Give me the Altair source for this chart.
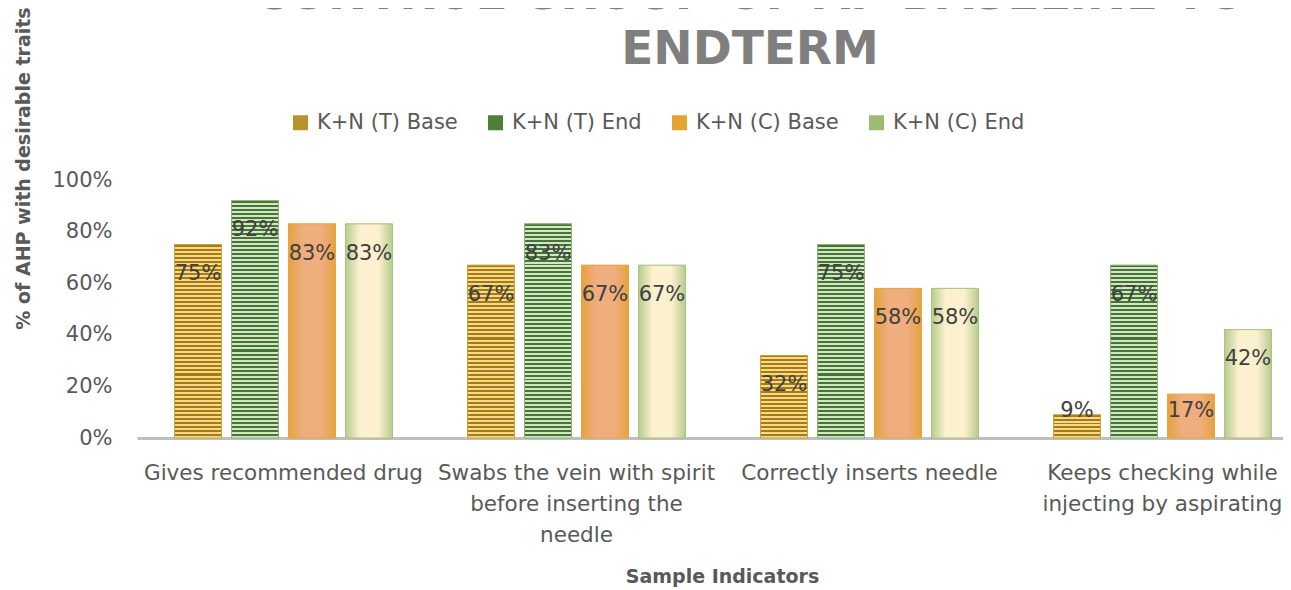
import altair as alt
import pandas as pd

# ---- data ----
categories = [
    "Gives recommended drug",
    "Swabs the vein with spirit before inserting the needle",
    "Correctly inserts needle",
    "Keeps checking while injecting by aspirating",
]
category_lines = [
    ["Gives recommended drug"],
    ["Swabs the vein with spirit", "before inserting the", "needle"],
    ["Correctly inserts needle"],
    ["Keeps checking while", "injecting by aspirating"],
]
series = ["K+N (T) Base", "K+N (T) End", "K+N (C) Base", "K+N (C) End"]
t_base = [0.75, 0.67, 0.32, 0.09]
t_end = [0.92, 0.83, 0.75, 0.67]
c_base = [0.83, 0.67, 0.58, 0.17]
c_end = [0.83, 0.67, 0.58, 0.42]
title_lines = ["CONTROL GROUP OF AP BASELINE TO", "ENDTERM"]
y_title = "% of AHP with desirable traits"
x_title = "Sample Indicators"

values = {series[0]: t_base, series[1]: t_end, series[2]: c_base, series[3]: c_end}
rows = []
for s in series:
    for c, v in zip(categories, values[s]):
        rows.append({"cat": c, "series": s, "v": v})
df = pd.DataFrame(rows)

# ---- layout / style ----
FONT = "DejaVu Sans"
PLOT_H = 258
STEP = 293
W = 1146
legend_colors = ["#B8922A", "#4F7F38", "#E3A52E", "#9CBC72"]

label_map = "{" + ",".join(
    "'" + c + "': [" + ",".join("'" + l + "'" for l in ls) + "]"
    for c, ls in zip(categories, category_lines)
) + "}"

x_enc = alt.X(
    "cat:N",
    sort=categories,
    scale=alt.Scale(range=[0, 4 * STEP], paddingInner=0.222, paddingOuter=0.111),
    axis=alt.Axis(
        title=x_title,
        labelAngle=0,
        labelExpr=label_map + "[datum.value]",
        labelFont=FONT,
        labelFontSize=21.5,
        labelColor="#595959",
        labelLineHeight=31,
        labelPadding=24,
        labelLimit=500,
        labelOverlap=False,
        labelBound=False,
        ticks=False,
        domainColor="#BFBFBF",
        domainWidth=3,
        titleFont=FONT,
        titleFontSize=19,
        titleFontWeight="bold",
        titleColor="#595959",
        titleX=585,
        titleY=138,
        titleAlign="center",
        titleBaseline="middle",
        titleAnchor="start",
    ),
)
xo_enc = alt.XOffset(
    "series:N", sort=series, scale=alt.Scale(paddingInner=0.175, paddingOuter=0.0875)
)
y_enc = alt.Y(
    "v:Q",
    scale=alt.Scale(domain=[0, 1], nice=False),
    axis=alt.Axis(
        title=y_title,
        format=".0%",
        values=[0, 0.2, 0.4, 0.6, 0.8, 1.0],
        grid=False,
        domain=False,
        ticks=False,
        labelFont=FONT,
        labelFontSize=21,
        labelColor="#595959",
        labelPadding=25,
        titleFont=FONT,
        titleFontSize=19,
        titleFontWeight="bold",
        titleColor="#595959",
        titleAngle=270,
        titleX=-114,
        titleY=-12,
        titleAlign="center",
        titleBaseline="middle",
    ),
)

base = alt.Chart(df)

legend_layer = base.mark_bar().encode(
    x=x_enc,
    xOffset=xo_enc,
    y=y_enc,
    color=alt.Color(
        "series:N",
        sort=series,
        scale=alt.Scale(domain=series, range=legend_colors),
        legend=alt.Legend(
            title=None,
            orient="none",
            legendX=153,
            legendY=-68,
            direction="horizontal",
            columns=4,
            symbolType="square",
            symbolSize=225,
            symbolStrokeWidth=0,
            labelFont=FONT,
            labelFontSize=21,
            labelColor="#595959",
            columnPadding=27,
            labelOffset=6,
        ),
    ),
)


def stripes(dark, light, n):
    stops = []
    for k in range(n):
        a = k / n
        b = (k + 0.5) / n
        c = (k + 1) / n
        stops += [
            {"offset": a, "color": dark},
            {"offset": b, "color": dark},
            {"offset": b, "color": light},
            {"offset": c, "color": light},
        ]
    return {"gradient": "linear", "x1": 0, "y1": 0, "x2": 0, "y2": 1, "stops": stops}


def soft(edge, center):
    return {
        "gradient": "linear", "x1": 0, "y1": 0, "x2": 1, "y2": 0,
        "stops": [
            {"offset": 0, "color": edge},
            {"offset": 0.3, "color": center},
            {"offset": 0.7, "color": center},
            {"offset": 1, "color": edge},
        ],
    }


layers = [legend_layer]
stripe_styles = {
    series[0]: ("#A67C10", "#F6D98C", "#C9A43A"),
    series[1]: ("#457532", "#D3E7C8", "#8FB37B"),
}
for s, (dark, light, stroke) in stripe_styles.items():
    for c, v in zip(categories, values[s]):
        n = max(1, round(v * PLOT_H / 4))
        layers.append(
            base.transform_filter((alt.datum.cat == c) & (alt.datum.series == s))
            .mark_bar(fill=stripes(dark, light, n), stroke=stroke, strokeWidth=1)
            .encode(x=x_enc, xOffset=xo_enc, y=y_enc)
        )

soft_styles = {
    series[2]: ("#E6A23E", "#F0AD7E", "#E3A73A"),
    series[3]: ("#B6CC8E", "#FCF0CE", "#A9C281"),
}
for s, (edge, center, stroke) in soft_styles.items():
    layers.append(
        base.transform_filter(alt.datum.series == s)
        .mark_bar(fill=soft(edge, center), stroke=stroke, strokeWidth=1)
        .encode(x=x_enc, xOffset=xo_enc, y=y_enc)
    )

labels = (
    base.transform_calculate(ly="max(datum.v - 0.115, 0.105)")
    .mark_text(font=FONT, fontSize=21, color="#404040", baseline="middle")
    .encode(
        x=x_enc,
        xOffset=xo_enc,
        y=alt.Y("ly:Q", scale=alt.Scale(domain=[0, 1], nice=False)),
        text=alt.Text("v:Q", format=".0%"),
    )
)
layers.append(labels)

for i, line in enumerate(title_lines):
    layers.append(
        alt.Chart(pd.DataFrame({"t": [line]}))
        .mark_text(
            font=FONT,
            fontSize=47,
            fontWeight="bold",
            color="#7F7F7F",
            align="center",
            baseline="alphabetic",
        )
        .encode(
            text="t:N",
            x=alt.value(613),
            y=alt.value(-116 - 55 * (len(title_lines) - 1 - i)),
        )
    )

chart = (
    alt.layer(*layers)
    .properties(
        width=W,
        height=PLOT_H,
        autosize=alt.AutoSizeParams(type="none"),
        padding={"left": 129, "top": 172, "right": 0, "bottom": 150},
    )
    .configure(background="white")
    .configure_view(stroke=None)
)

chart.save("out.html", embed_options={"renderer": "svg", "actions": False})
